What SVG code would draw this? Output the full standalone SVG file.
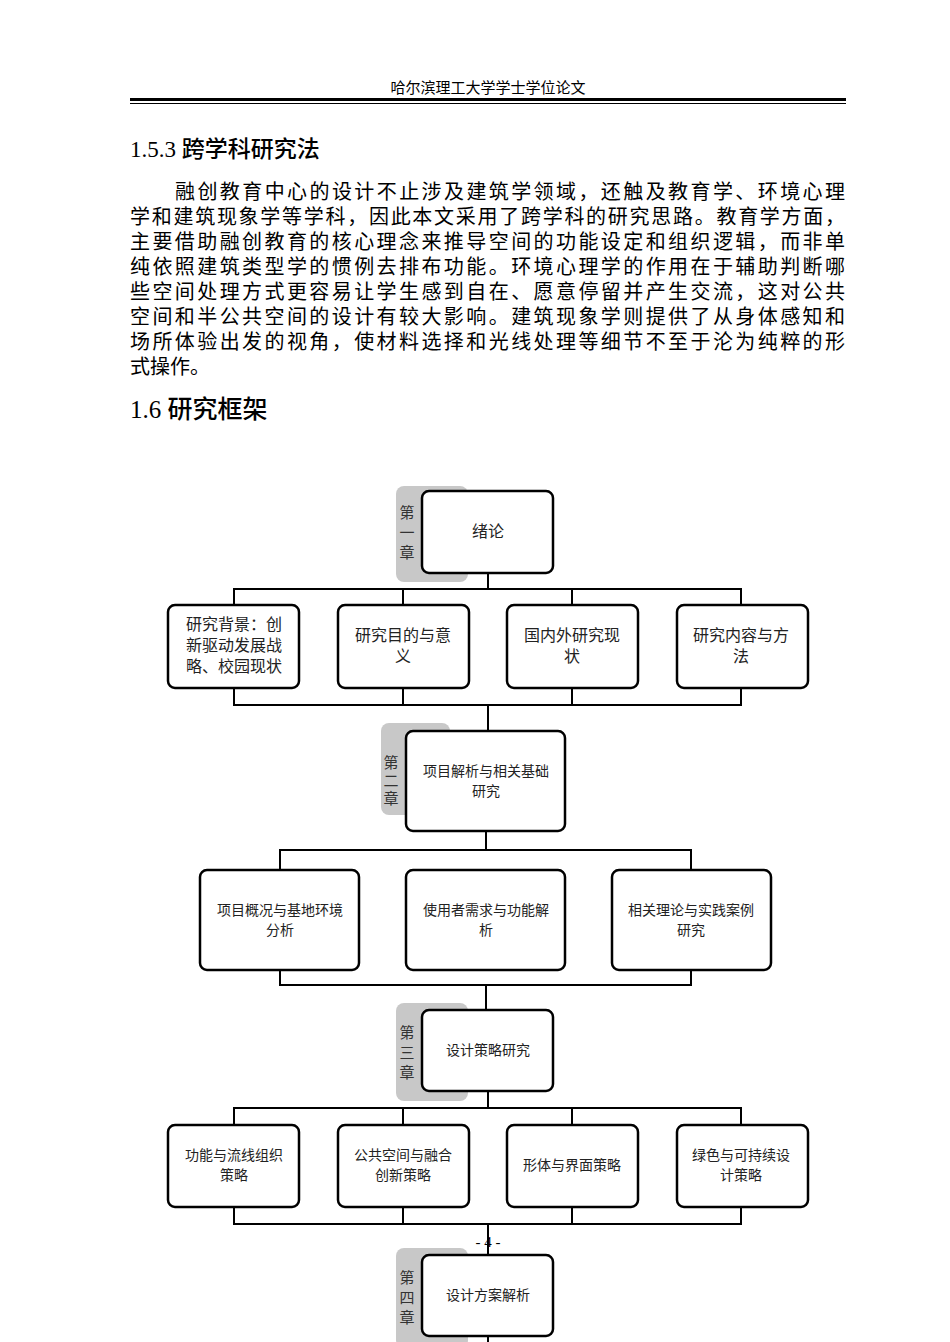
<svg xmlns="http://www.w3.org/2000/svg" width="950" height="1342" viewBox="0 0 950 1342">
<style>
.b{font-family:"Liberation Serif","Noto Sans CJK SC",serif;fill:#000}
.n{fill:#fff;stroke:#000;stroke-width:2.5}
.tab{fill:#c8c8c8}
.t{font-family:"Noto Sans CJK SC",sans-serif;font-size:16px;fill:#222;text-anchor:middle}
.s{font-family:"Noto Sans CJK SC",sans-serif;font-size:14px;fill:#222;text-anchor:middle}
.c{font-family:"Noto Sans CJK SC",sans-serif;font-size:15px;fill:#333;text-anchor:middle}
.l{fill:none;stroke:#000;stroke-width:2}
</style>
<rect width="950" height="1342" fill="#fff"/>
<text class="b" x="488" y="93" font-size="15" text-anchor="middle">哈尔滨理工大学学士学位论文</text>
<rect x="130" y="98" width="716" height="3" fill="#000"/>
<rect x="130" y="103" width="716" height="1" fill="#000"/>
<text class="b" x="130" y="157" font-size="23" font-weight="500">1.5.3  跨学科研究法</text>
<g class="b" font-size="20">
<text x="175" y="199" textLength="670">融创教育中心的设计不止涉及建筑学领域，还触及教育学、环境心理</text>
<text x="130" y="224" textLength="715">学和建筑现象学等学科，因此本文采用了跨学科的研究思路。教育学方面，</text>
<text x="130" y="249" textLength="715">主要借助融创教育的核心理念来推导空间的功能设定和组织逻辑，而非单</text>
<text x="130" y="274" textLength="715">纯依照建筑类型学的惯例去排布功能。环境心理学的作用在于辅助判断哪</text>
<text x="130" y="299" textLength="715">些空间处理方式更容易让学生感到自在、愿意停留并产生交流，这对公共</text>
<text x="130" y="324" textLength="715">空间和半公共空间的设计有较大影响。建筑现象学则提供了从身体感知和</text>
<text x="130" y="349" textLength="715">场所体验出发的视角，使材料选择和光线处理等细节不至于沦为纯粹的形</text>
<text x="130" y="374">式操作。</text>
</g>
<text class="b" x="130" y="418" font-size="25" font-weight="500">1.6  研究框架</text>
<g id="connectors" class="l">
<path d="M488 573V589M234 605V589H741V605M403 589V605M572 589V605"/>
<path d="M234 688V705H741V688M403 688V705M572 688V705M488 705V731"/>
<path d="M486 831V850M280 870V850H691V870"/>
<path d="M280 970V985H691V970M486 985V1010"/>
<path d="M488 1091V1108M234 1125V1108H741V1125M403 1108V1125M572 1108V1125"/>
<path d="M234 1207V1224H741V1207M403 1207V1224M572 1207V1224M488 1224V1255M488 1336V1342"/>
</g>
<g id="ch1"><rect class="tab" x="396" y="486" width="72" height="96" rx="8"/><text class="c" x="407" y="518">第</text><text class="c" x="407" y="538">一</text><text class="c" x="407" y="558">章</text><rect class="n" x="422" y="491" width="131" height="82" rx="7"/><text class="t" x="488" y="537">绪论</text></g>
<g id="n11"><rect class="n" x="168" y="605" width="131" height="83" rx="7"/><text class="t" x="234" y="630">研究背景：创</text><text class="t" x="234" y="651">新驱动发展战</text><text class="t" x="234" y="672">略、校园现状</text></g>
<g id="n12"><rect class="n" x="338" y="605" width="131" height="83" rx="7"/><text class="t" x="403" y="641">研究目的与意</text><text class="t" x="403" y="662">义</text></g>
<g id="n13"><rect class="n" x="507" y="605" width="131" height="83" rx="7"/><text class="t" x="572" y="641">国内外研究现</text><text class="t" x="572" y="662">状</text></g>
<g id="n14"><rect class="n" x="677" y="605" width="131" height="83" rx="7"/><text class="t" x="741" y="641">研究内容与方</text><text class="t" x="741" y="662">法</text></g>
<g id="ch2"><rect class="tab" x="381" y="723" width="69" height="92" rx="8"/><text class="c" x="391" y="768">第</text><text class="c" x="391" y="786">二</text><text class="c" x="391" y="804">章</text><rect class="n" x="406" y="731" width="159" height="100" rx="7"/><text class="s" x="486" y="776">项目解析与相关基础</text><text class="s" x="486" y="796">研究</text></g>
<g id="n21"><rect class="n" x="200" y="870" width="159" height="100" rx="7"/><text class="s" x="280" y="915">项目概况与基地环境</text><text class="s" x="280" y="935">分析</text></g>
<g id="n22"><rect class="n" x="406" y="870" width="159" height="100" rx="7"/><text class="s" x="486" y="915">使用者需求与功能解</text><text class="s" x="486" y="935">析</text></g>
<g id="n23"><rect class="n" x="612" y="870" width="159" height="100" rx="7"/><text class="s" x="691" y="915">相关理论与实践案例</text><text class="s" x="691" y="935">研究</text></g>
<g id="ch3"><rect class="tab" x="396" y="1003" width="72" height="98" rx="8"/><text class="c" x="407" y="1038">第</text><text class="c" x="407" y="1058">三</text><text class="c" x="407" y="1078">章</text><rect class="n" x="422" y="1010" width="131" height="81" rx="7"/><text class="s" x="488" y="1055">设计策略研究</text></g>
<g id="n31"><rect class="n" x="168" y="1125" width="131" height="82" rx="7"/><text class="s" x="234" y="1160">功能与流线组织</text><text class="s" x="234" y="1180">策略</text></g>
<g id="n32"><rect class="n" x="338" y="1125" width="131" height="82" rx="7"/><text class="s" x="403" y="1160">公共空间与融合</text><text class="s" x="403" y="1180">创新策略</text></g>
<g id="n33"><rect class="n" x="507" y="1125" width="131" height="82" rx="7"/><text class="s" x="572" y="1170">形体与界面策略</text></g>
<g id="n34"><rect class="n" x="677" y="1125" width="131" height="82" rx="7"/><text class="s" x="741" y="1160">绿色与可持续设</text><text class="s" x="741" y="1180">计策略</text></g>
<text class="b" x="488" y="1247" font-size="15" text-anchor="middle">- 4 -</text>
<g id="ch4"><rect class="tab" x="396" y="1248" width="72" height="100" rx="8"/><text class="c" x="407" y="1283">第</text><text class="c" x="407" y="1303">四</text><text class="c" x="407" y="1323">章</text><rect class="n" x="422" y="1255" width="131" height="81" rx="7"/><text class="s" x="488" y="1300">设计方案解析</text></g>
</svg>
